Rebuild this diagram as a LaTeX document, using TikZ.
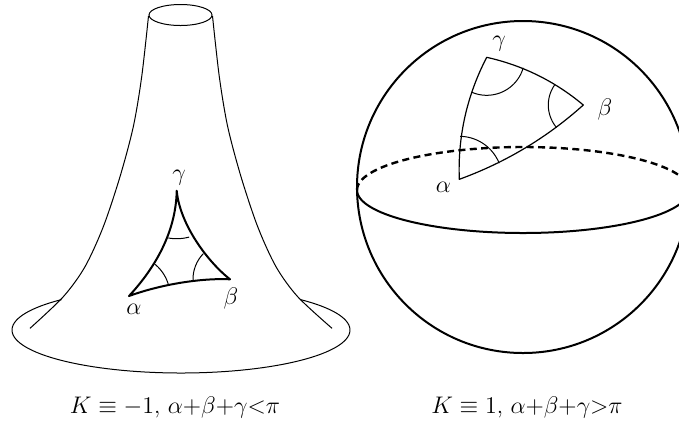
\documentclass[tikz,border=0pt]{standalone}
\begin{document}
\begin{tikzpicture}[x=0.5pt,y=-0.5pt,
		every node/.style={font=\fontsize{11.5}{13}\selectfont, inner sep=0pt},
		outline/.style={line width=0.5pt},
		horntri/.style={line width=1pt, line join=round},
		spheretri/.style={line width=0.6pt, line join=round},
		angmark/.style={line width=0.5pt},
		rim/.style={line width=1pt},
		backside/.style={line width=1.2pt, dash pattern=on 3.5pt off 2.2pt}]
		\path[use as bounding box, clip] (0,0) rectangle (679,425);
		% pseudosphere
		\coordinate (T) at (180.5,15);
		\coordinate (G1) at (176.7,190.7);
		\coordinate (A1) at (129,296);
		\coordinate (B1) at (230,279.3);
		\draw[outline] (T) ellipse [x radius=15.75pt, y radius=5.25pt];
		\draw[outline] plot[smooth, tension=0.5] coordinates {(148.5,16) (141.7,76.7) (133.3,126.7) (120,176.7) (103.3,226.7) (85,266.7) (63.3,296.7) (30,328.3)};
		\draw[outline] plot[smooth, tension=0.5] coordinates {(212.5,16) (219.3,76.7) (227.7,126.7) (241,176.7) (257.7,226.7) (276,266.7) (297.7,296.7) (332,328.3)};
		\draw[outline] plot[domain=-45:225, samples=100] ({181+169*cos(\x)},{330+43*sin(\x)});
		\draw[horntri] (G1) .. controls (176,232) and (155,268) .. (A1)
			.. controls (165,283) and (205,278) .. (B1)
			.. controls (208,262) and (180,225) .. cycle;
		\draw[angmark, shift={(G1)}] plot[domain=75:100] ({48*cos(\x)},{48*sin(\x)});
		\draw[angmark, shift={(A1)}] plot[domain=-51:-16] ({41*cos(\x)},{41*sin(\x)});
		\draw[angmark, shift={(B1)}] plot[domain=179:224] ({37*cos(\x)},{37*sin(\x)});
		\node (g1) at (179,178) {$\gamma$};
		\node (a1) at (134,309) {$\alpha$};
		\node (b1) at (231,298) {$\beta$};
		% sphere
		\coordinate (S) at (523,187);
		\coordinate (G2) at (486.7,57.3);
		\coordinate (A2) at (459.3,179.3);
		\coordinate (B2) at (583.3,105);
		\draw[rim] (S) circle [radius=83pt];
		\draw[rim] plot[domain=0:180, samples=100] ({523+166*cos(\x)},{190+43*sin(\x)});
		\draw[backside] plot[domain=180:360, samples=100] ({523+166*cos(\x)},{190+43*sin(\x)});
		\draw[spheretri] (G2) .. controls (522.8,65.4) and (555,81.3) .. (B2)
			.. controls (546.8,137.8) and (505.4,162.5) .. (A2)
			.. controls (457.7,136.2) and (466.9,95.6) .. cycle;
		\draw[angmark, shift={(G2)}] plot[domain=16:114] ({38*cos(\x)},{38*sin(\x)});
		\draw[angmark, shift={(B2)}] plot[domain=140:215] ({35*cos(\x)},{35*sin(\x)});
		\draw[angmark, shift={(A2)}] plot[domain=-89:-22] ({43*cos(\x)},{43*sin(\x)});
		\node (g2) at (499,44) {$\gamma$};
		\node (b2) at (605,109) {$\beta$};
		\node (a2) at (443.5,187.5) {$\alpha$};
		% captions
		\node[anchor=base] (cap1) at (175,413) {$K\equiv-1$, $\alpha{+}\beta{+}\gamma{<}\pi$};
		\node[anchor=base] (cap2) at (527,413) {$K\equiv1$, $\alpha{+}\beta{+}\gamma{>}\pi$};
\end{tikzpicture}
\end{document}
